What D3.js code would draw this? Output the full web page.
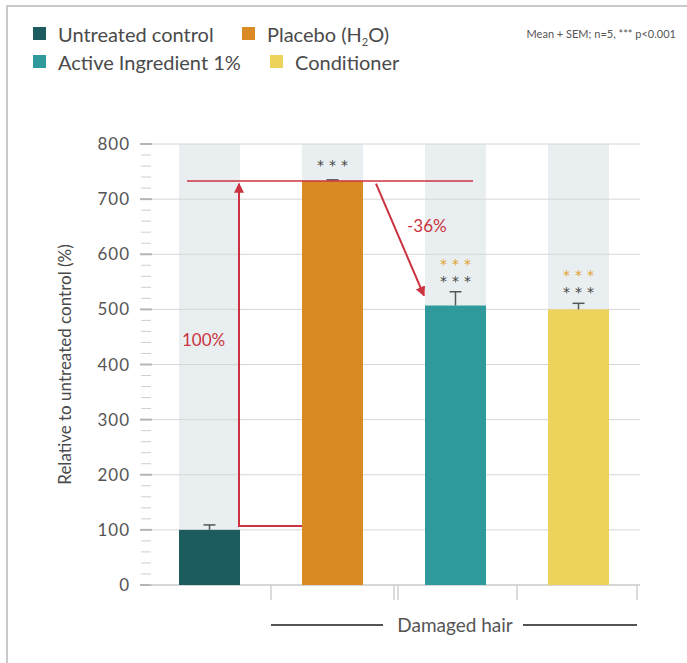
<!DOCTYPE html>
<html>
<head>
<meta charset="utf-8">
<script src="https://cdn.jsdelivr.net/npm/d3@7"></script>
<style>
  body { margin: 0; background: #fff; }
  text { font-family: Lato, "Noto Sans", sans-serif; }
  text.stars { font-family: "DejaVu Sans", sans-serif; }
</style>
</head>
<body>
<script>

const width = 687;
const height = 663;

// data
const categories = ['Untreated control', 'Placebo (H2O)', 'Active Ingredient 1%', 'Conditioner'];
const means = [100, 733, 507, 500];
const sems = [9, 2, 25, 11];
const colors = ['#1c5b5e', '#d98a25', '#2e9a9b', '#edd25c'];
const grayStars = ['', '***', '***', '***'];
const orangeStars = ['', '', '***', '***'];
const yTicks = [0, 100, 200, 300, 400, 500, 600, 700, 800];

let svg = d3.select('body').append('svg')
            .attr('width', width)
            .attr('height', height);

// frame (only left and top edges show)
svg.append('path')
    .attr('d', `M7,${height} V6 H${width}`)
    .attr('fill', 'none')
    .attr('stroke', '#c9c9c9')
    .attr('stroke-width', 2);

const x = d3.scaleBand()
            .domain(categories)
            .range([148, 640])
            .paddingInner(0.504)
            .paddingOuter(0.252);

const y = d3.scaleLinear()
            .domain([0, 800])
            .range([585, 144]);

const bw = x.bandwidth();
const gap = x.step() - bw;

// light column bands
svg.selectAll('rect.band')
    .data(categories)
    .enter()
    .append('rect')
    .attr('class', 'band')
    .attr('x', d => x(d))
    .attr('y', y(800))
    .attr('width', bw)
    .attr('height', y(0) - y(800))
    .attr('fill', '#e9eff0');

// minor ticks
svg.selectAll('line.minor')
    .data(d3.range(0, 801, 20).filter(v => v % 100 !== 0))
    .enter()
    .append('line')
    .attr('x1', 141).attr('x2', 151)
    .attr('y1', d => y(d)).attr('y2', d => y(d))
    .attr('stroke', '#cfcfcf')
    .attr('stroke-width', 1);

// gridlines and major ticks
svg.selectAll('line.grid')
    .data(yTicks)
    .enter()
    .append('line')
    .attr('x1', 152).attr('x2', 640)
    .attr('y1', d => y(d)).attr('y2', d => y(d))
    .attr('stroke', '#d6d6d6')
    .attr('stroke-width', 1);

svg.selectAll('line.major')
    .data(yTicks)
    .enter()
    .append('line')
    .attr('x1', 140).attr('x2', 152)
    .attr('y1', d => y(d)).attr('y2', d => y(d))
    .attr('stroke', '#b5b5b5')
    .attr('stroke-width', 2);

svg.selectAll('text.ytick')
    .data(yTicks)
    .enter()
    .append('text')
    .attr('x', 130)
    .attr('y', d => y(d) + 6)
    .attr('text-anchor', 'end')
    .attr('font-size', 17)
    .attr('letter-spacing', 1)
    .attr('fill', '#555')
    .text(d => d);

svg.append('text')
    .attr('transform', `translate(71,${(y(0) + y(800)) / 2}) rotate(-90)`)
    .attr('text-anchor', 'middle')
    .attr('font-size', 17)
    .attr('fill', '#4a4a4a')
    .text('Relative to untreated control (%)');

// bottom axis line and separators
svg.append('line')
    .attr('x1', 150).attr('x2', 640)
    .attr('y1', y(0)).attr('y2', y(0))
    .attr('stroke', '#cfcfcf')
    .attr('stroke-width', 1.5);

let seps = categories.slice(1).map(c => x(c) - gap / 2);
seps.push(x(categories[3]) + bw + gap / 2 - 3);
seps.push(seps[1] + 4);

svg.selectAll('line.sep')
    .data(seps)
    .enter()
    .append('line')
    .attr('x1', d => d).attr('x2', d => d)
    .attr('y1', y(0)).attr('y2', y(0) + 15)
    .attr('stroke', '#cfcfcf')
    .attr('stroke-width', 1.5);

// bars
svg.selectAll('rect.bar')
    .data(categories)
    .enter()
    .append('rect')
    .attr('class', 'bar')
    .attr('x', d => x(d))
    .attr('y', (d, i) => y(means[i]))
    .attr('width', bw)
    .attr('height', (d, i) => y(0) - y(means[i]))
    .attr('fill', (d, i) => colors[i]);

// error bars
categories.forEach((c, i) => {
    const cx = x(c) + bw / 2;
    svg.append('line')
        .attr('x1', cx).attr('x2', cx)
        .attr('y1', y(means[i])).attr('y2', y(means[i] + sems[i]))
        .attr('stroke', '#555').attr('stroke-width', 1.5);
    svg.append('line')
        .attr('x1', cx - 6).attr('x2', cx + 6)
        .attr('y1', y(means[i] + sems[i])).attr('y2', y(means[i] + sems[i]))
        .attr('stroke', '#555').attr('stroke-width', 1.5);
});

// significance stars: gray row sits above the error bar, orange row above it
const grayOffset = [0, -13, -9, -9];
categories.forEach((c, i) => {
    if (!grayStars[i]) return;
    const cx = x(c) + bw / 2 + 2.5;
    const base = y(means[i] + sems[i]) + grayOffset[i] + 3;
    let t = svg.append('text')
        .attr('class', 'stars')
        .attr('text-anchor', 'middle')
        .attr('font-size', 14)
        .attr('letter-spacing', 5);
    if (orangeStars[i]) {
        t.append('tspan')
            .attr('x', cx).attr('y', base - 17)
            .attr('fill', '#e0a12e')
            .text(orangeStars[i]);
    }
    t.append('tspan')
        .attr('x', cx).attr('y', base)
        .attr('fill', '#454545')
        .text(grayStars[i]);
});

// red annotations
const red = '#cc3340';
svg.append('defs').append('marker')
    .attr('id', 'arrow')
    .attr('viewBox', '0 0 10 10')
    .attr('refX', 9).attr('refY', 5)
    .attr('markerWidth', 5).attr('markerHeight', 5)
    .attr('orient', 'auto')
    .append('path')
    .attr('d', 'M0,0 L10,5 L0,10 Z')
    .attr('fill', red);

svg.append('line')
    .attr('x1', x(categories[0]) + 8).attr('x2', x(categories[2]) + 48)
    .attr('y1', y(means[1])).attr('y2', y(means[1]))
    .attr('stroke', red).attr('stroke-width', 1.5);

const ax = x(categories[0]) + bw - 1;
svg.append('path')
    .attr('d', `M${x(categories[1])},${y(107)} H${ax} V${y(728)}`)
    .attr('fill', 'none')
    .attr('stroke', red).attr('stroke-width', 2)
    .attr('marker-end', 'url(#arrow)');

svg.append('line')
    .attr('x1', x(categories[1]) + bw + 13).attr('y1', y(728))
    .attr('x2', x(categories[2]) - 1).attr('y2', y(525))
    .attr('stroke', red).attr('stroke-width', 2)
    .attr('marker-end', 'url(#arrow)');

svg.append('text')
    .attr('x', x(categories[0]) + 3).attr('y', y(433))
    .attr('font-size', 17).attr('fill', red)
    .text('100%');

svg.append('text')
    .attr('x', x(categories[2]) - 18).attr('y', y(640))
    .attr('font-size', 17).attr('fill', red)
    .text('-36%');

// group label
svg.append('line')
    .attr('x1', seps[0]).attr('x2', 383)
    .attr('y1', 625).attr('y2', 625)
    .attr('stroke', '#555').attr('stroke-width', 2);
svg.append('line')
    .attr('x1', 523).attr('x2', seps[3])
    .attr('y1', 625).attr('y2', 625)
    .attr('stroke', '#555').attr('stroke-width', 2);
svg.append('text')
    .attr('x', 455).attr('y', 632)
    .attr('text-anchor', 'middle')
    .attr('font-size', 19).attr('fill', '#555')
    .text('Damaged hair');

// legend
const legendPos = [[33, 27], [242, 27], [33, 55], [270, 55]];
categories.forEach((c, i) => {
    const [lx, ly] = legendPos[i];
    svg.append('rect')
        .attr('x', lx).attr('y', ly)
        .attr('width', 13).attr('height', 13)
        .attr('fill', colors[i]);
    let t = svg.append('text')
        .attr('x', lx + 25).attr('y', ly + 15)
        .attr('font-size', 20)
        .attr('fill', '#4a4a4a');
    if (i === 1) {
        t.append('tspan').text('Placebo (H');
        t.append('tspan').attr('font-size', 11).attr('dy', 4).text('2');
        t.append('tspan').attr('dy', -4).text('O)');
    } else {
        t.text(c);
    }
});

svg.append('text')
    .attr('x', 676).attr('y', 38)
    .attr('text-anchor', 'end')
    .attr('font-size', 11)
    .attr('fill', '#555')
    .text('Mean + SEM; n=5, *** p<0.001');

</script>
</body>
</html>
